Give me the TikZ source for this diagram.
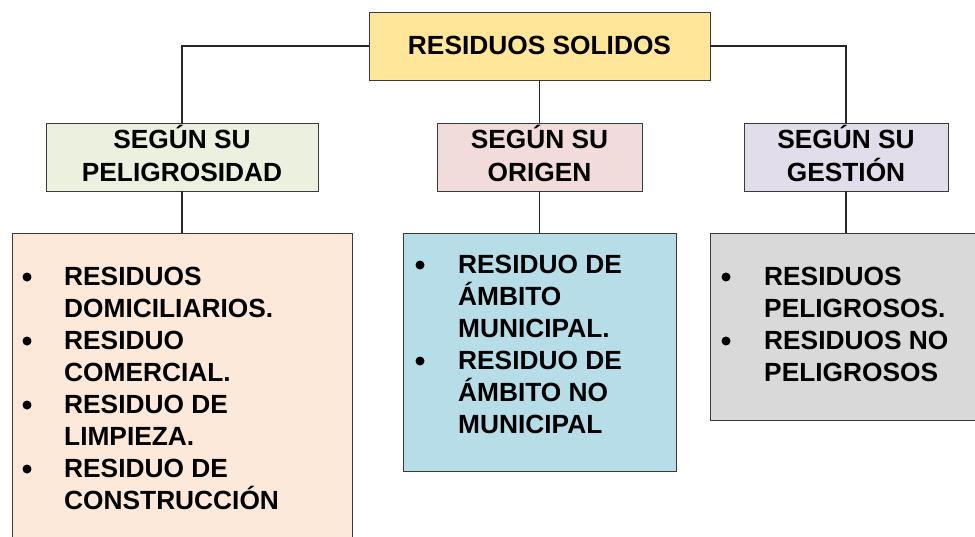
\documentclass[tikz,border=0pt]{standalone}
\usepackage{fontspec}
\setmainfont{Liberation Sans}
\definecolor{cTop}{HTML}{FFE699}
\definecolor{cPel}{HTML}{EBF1DE}
\definecolor{cOri}{HTML}{F2DCDB}
\definecolor{cGes}{HTML}{E2DDEB}
\definecolor{cLeft}{HTML}{FDE9D9}
\definecolor{cMid}{HTML}{B7DEE8}
\definecolor{cRight}{HTML}{D9D9D9}
\definecolor{cEdge}{HTML}{3A3A3A}
\tikzset{
  box/.style={draw=cEdge, line width=0.9pt, rectangle, inner sep=0pt},
  lbl/.style={anchor=base, inner sep=0pt, font=\bfseries\fontsize{26.3}{31}\selectfont},
  item/.style={anchor=base west, inner sep=0pt, font=\bfseries\fontsize{26.3}{31}\selectfont},
  conn/.style={draw=black!85, line width=1.2pt},
  bul/.style={circle, fill=black, inner sep=0pt, minimum size=9pt}
}
\begin{document}
\begin{tikzpicture}[x=1pt,y=-1pt]
\path[use as bounding box] (0,0) rectangle (975,536);
\clip (0,0) rectangle (975,536);
% boxes
\node[box, fill=cTop, minimum width=341pt, minimum height=68pt] (top) at (539.5,46) {};
\node[box, fill=cPel, minimum width=272pt, minimum height=68pt] (pel) at (182,157) {};
\node[box, fill=cOri, minimum width=205pt, minimum height=68pt] (ori) at (539.5,157) {};
\node[box, fill=cGes, minimum width=204pt, minimum height=68pt] (ges) at (846,157) {};
\node[box, fill=cLeft, minimum width=340pt, minimum height=327pt] (lft) at (182,396.5) {};
\node[box, fill=cMid, minimum width=273pt, minimum height=238pt] (mid) at (539.5,352) {};
\node[box, fill=cRight, minimum width=290pt, minimum height=187pt] (rgt) at (855,326.5) {};
% connectors
\draw[conn] (top.west) -| (pel.north);
\draw[conn] (top.south) -- (ori.north);
\draw[conn] (top.east) -| (ges.north);
\draw[conn] (pel.south) -- (pel.south |- lft.north);
\draw[conn] (ori.south) -- (ori.south |- mid.north);
\draw[conn] (ges.south) -- (ges.south |- rgt.north);
% headings
\node[lbl] (tTop) at (539.5,54) {RESIDUOS SOLIDOS};
\node[lbl] (tPel1) at (182,148) {SEGÚN SU};
\node[lbl] (tPel2) at (182,181) {PELIGROSIDAD};
\node[lbl] (tOri1) at (539.5,148) {SEGÚN SU};
\node[lbl] (tOri2) at (539.5,181) {ORIGEN};
\node[lbl] (tGes1) at (846,148) {SEGÚN SU};
\node[lbl] (tGes2) at (846,181) {GESTIÓN};
% left list
\node[bul] (bL1) at (27,277) {};
\node[bul] (bL2) at (27,341) {};
\node[bul] (bL3) at (27,405) {};
\node[bul] (bL4) at (27,469) {};
\node[item] (l1) at (64,285) {RESIDUOS};
\node[item] (l2) at (64,317) {DOMICILIARIOS.};
\node[item] (l3) at (64,349) {RESIDUO};
\node[item] (l4) at (64,381) {COMERCIAL.};
\node[item] (l5) at (64,413) {RESIDUO DE};
\node[item] (l6) at (64,445) {LIMPIEZA.};
\node[item] (l7) at (64,477) {RESIDUO DE};
\node[item] (l8) at (64,509) {CONSTRUCCIÓN};
% middle list
\node[bul] (bM1) at (420,265) {};
\node[bul] (bM2) at (420,361) {};
\node[item] (m1) at (458,273) {RESIDUO DE};
\node[item] (m2) at (458,305) {ÁMBITO};
\node[item] (m3) at (458,337) {MUNICIPAL.};
\node[item] (m4) at (458,369) {RESIDUO DE};
\node[item] (m5) at (458,401) {ÁMBITO NO};
\node[item] (m6) at (458,433) {MUNICIPAL};
% right list
\node[bul] (bR1) at (726,277) {};
\node[bul] (bR2) at (726,341) {};
\node[item] (r1) at (764,285) {RESIDUOS};
\node[item] (r2) at (764,317) {PELIGROSOS.};
\node[item] (r3) at (764,349) {RESIDUOS NO};
\node[item] (r4) at (764,381) {PELIGROSOS};
\end{tikzpicture}
\end{document}
